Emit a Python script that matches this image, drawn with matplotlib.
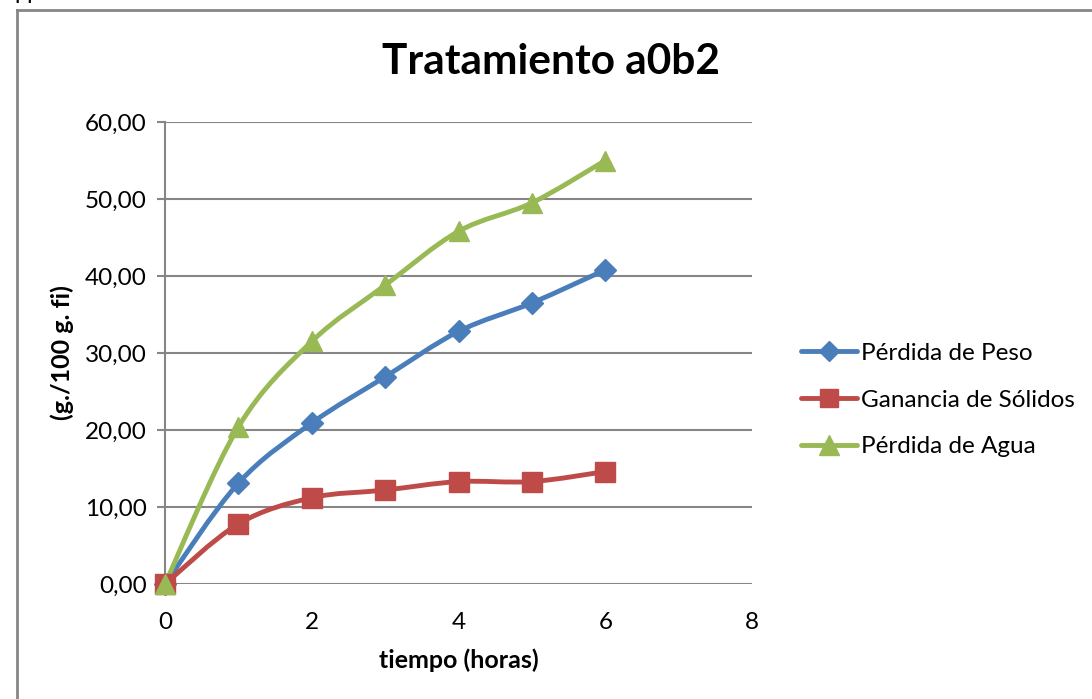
import numpy as np
import matplotlib
matplotlib.use("Agg")
import matplotlib.pyplot as plt
from matplotlib.path import Path
from matplotlib.patches import PathPatch
from matplotlib.lines import Line2D

plt.rcParams['font.family'] = ['Lato', 'DejaVu Sans']

# Data
horas = [0, 1, 2, 3, 4, 5, 6]
perdida_peso = [0.0, 13.1, 20.9, 26.9, 32.8, 36.5, 40.8]
ganancia_solidos = [0.0, 7.8, 11.2, 12.2, 13.3, 13.3, 14.6]
perdida_agua = [0.0, 20.4, 31.5, 38.8, 45.8, 49.5, 55.0]

series_names = ["Pérdida de Peso", "Ganancia de Sólidos", "Pérdida de Agua"]
series_values = [perdida_peso, ganancia_solidos, perdida_agua]
series_colors = ["#4A7EBB", "#BE4B48", "#98B954"]
series_markers = ["D", "s", "^"]
marker_sizes = [11, 14, 15]

y_ticks = [0, 10, 20, 30, 40, 50, 60]
x_ticks = [0, 2, 4, 6, 8]

W, H = 1092, 699
fig = plt.figure(figsize=(W / 100, H / 100), dpi=100)
fig.patch.set_facecolor("white")

ax = fig.add_axes([165 / W, 1 - 584 / H, (752 - 165) / W, (584 - 122) / H])
ax.set_xlim(0, 8)
ax.set_ylim(0, 60)

grid_col = "#868686"


def smooth_path(x, y):
    """Cubic Bezier through every point (Catmull-Rom style smoothing)."""
    pts = np.column_stack([x, y]).astype(float)
    n = len(pts)
    verts = [pts[0]]
    codes = [Path.MOVETO]
    for i in range(n - 1):
        p0 = pts[i - 1] if i > 0 else pts[i]
        p1 = pts[i]
        p2 = pts[i + 1]
        p3 = pts[i + 2] if i + 2 < n else pts[i + 1]
        c1 = p1 + (p2 - p0) / 6.0
        c2 = p2 - (p3 - p1) / 6.0
        verts += [c1, c2, p2]
        codes += [Path.CURVE4] * 3
    return Path(verts, codes)


for name, vals, col, mk, ms in zip(series_names, series_values, series_colors,
                                   series_markers, marker_sizes):
    patch = PathPatch(smooth_path(horas, vals), facecolor="none", edgecolor=col,
                      lw=3.5, capstyle="round", joinstyle="round", zorder=3)
    ax.add_patch(patch)
    ax.plot(horas, vals, linestyle="none", marker=mk, markersize=ms,
            color=col, markeredgecolor=col, zorder=4, clip_on=False)

# Axes styling
for side in ["top", "right", "bottom"]:
    ax.spines[side].set_visible(False)
ax.spines["left"].set_color(grid_col)
ax.spines["left"].set_linewidth(1.5)
ax.set_yticks(y_ticks)
ax.set_yticklabels([f"{v:.2f}".replace(".", ",") for v in y_ticks])
ax.set_xticks(x_ticks)
ax.set_xticklabels([str(v) for v in x_ticks])
ax.tick_params(axis="y", direction="out", length=6, width=1.5, color=grid_col,
               labelsize=17.5, pad=7)
ax.tick_params(axis="x", length=0, labelsize=17.5, pad=20)
ax.yaxis.grid(True, color=grid_col, lw=1.5)
ax.set_axisbelow(True)

ax.set_xlabel("tiempo (horas)", fontsize=18, fontweight="bold", va="center")
ax.set_ylabel("(g./100 g. fi)", fontsize=18, fontweight="bold", va="center")
ax.xaxis.set_label_coords(0.5, -(660 - 584) / 462)
ax.yaxis.set_label_coords((62 - 165) / 587, 0.5)

fig.text(551 / W, 1 - 62 / H, "Tratamiento a0b2", fontsize=30.5, fontweight="bold",
         ha="center", va="center")

# Legend
handles = [Line2D([0], [0], color=c, lw=3.5, marker=m, markersize=s * 0.95,
                  solid_capstyle="round")
           for c, m, s in zip(series_colors, series_markers, marker_sizes)]
fig.legend(handles, series_names, loc="center left",
           bbox_to_anchor=(791 / W, 1 - 400 / H), frameon=False, fontsize=17.5,
           handlelength=2.3, handletextpad=0.2, labelspacing=1.05,
           borderaxespad=0)

# Chart frame (extends beyond the right and bottom edges)
fig.add_artist(Line2D([17 / W, 1.0], [1 - 10 / H, 1 - 10 / H], color=grid_col,
                      lw=2, transform=fig.transFigure))
fig.add_artist(Line2D([17 / W, 17 / W], [1 - 10 / H, 0.0], color=grid_col,
                      lw=2, transform=fig.transFigure))
fig.text(14 / W, 1 + 1 / H, "pp", fontsize=17, ha="left", va="baseline")

fig.savefig("out.png", dpi=100, facecolor="white")
